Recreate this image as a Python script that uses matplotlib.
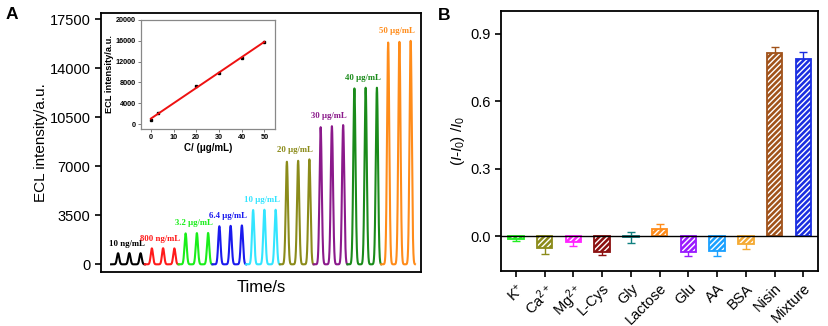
import numpy as np
import matplotlib
matplotlib.use("Agg")
import matplotlib.pyplot as plt

plt.rcParams['font.family'] = ['Liberation Sans', 'DejaVu Sans']
plt.rcParams['mathtext.fontset'] = 'custom'
plt.rcParams['mathtext.rm'] = 'Liberation Sans'
plt.rcParams['mathtext.it'] = 'Liberation Sans:italic'
plt.rcParams['hatch.linewidth'] = 1.0

# ---------------- Panel A data ----------------
group_labels = ["10 ng/mL", "800 ng/mL", "3.2 μg/mL", "6.4 μg/mL", "10 μg/mL",
                "20 μg/mL", "30 μg/mL", "40 μg/mL", "50 μg/mL"]
group_colors = ["#000000", "#ff1a1a", "#1aee1a", "#1a1aee", "#33e5ff",
                "#8b8b1a", "#8b1a8b", "#1a8b1a", "#ff8c1a"]
peak_heights = [
    [790, 800, 790],
    [1140, 1150, 1140],
    [2210, 2230, 2240],
    [2720, 2750, 2780],
    [3880, 3900, 3900],
    [7330, 7400, 7500],
    [9800, 9870, 9950],
    [12570, 12620, 12620],
    [15850, 15900, 15970],
]
inset_conc = [0, 3.2, 20, 30, 40, 50]
inset_points = [770, 2170, 7300, 9740, 12750, 15830]

# ---------------- Panel B data ----------------
interferents = ["K$^{+}$", "Ca$^{2+}$", "Mg$^{2+}$", "L-Cys", "Gly", "Lactose",
                "Glu", "AA", "BSA", "Nisin", "Mixture"]
response = [-0.011, -0.053, -0.024, -0.071, -0.005, 0.031, -0.070, -0.064,
            -0.033, 0.814, 0.785]
response_err = [0.010, 0.027, 0.018, 0.012, 0.024, 0.025, 0.018, 0.024,
                0.022, 0.025, 0.032]
bar_colors = ["#22ee22", "#8b8b1a", "#ff22ff", "#8b1010", "#108080", "#ff8c1a",
              "#9a1aff", "#1aa0ff", "#f5aa33", "#a0521a", "#1a2ee0"]

fig = plt.figure(figsize=(8.29, 3.26), dpi=100)

# ---------------- Panel A ----------------
axA = fig.add_axes([0.1218, 0.1656, 0.3862, 0.7954])
group_w = 30.0
peak_offsets = [6.2, 16.2, 26.2]
sigma = 1.0
for g, (heights, col) in enumerate(zip(peak_heights, group_colors)):
    t = np.linspace(g * group_w, (g + 1) * group_w, 1200)
    y = np.zeros_like(t)
    for off, h in zip(peak_offsets, heights):
        y += h * np.exp(-0.5 * ((t - (g * group_w + off)) / sigma) ** 2)
    axA.plot(t, y, color=col, lw=1.5, solid_joinstyle='round')
    axA.annotate(group_labels[g], xy=(g * group_w + 15, max(heights)),
                 xytext=(-1, 4), textcoords='offset points', ha='center',
                 va='bottom', fontsize=6.3, fontweight='bold', color=col,
                 family='Liberation Serif')
axA.set_xlim(-9, 275.5)
axA.set_ylim(-550, 17980)
axA.set_yticks([0, 3500, 7000, 10500, 14000, 17500])
axA.set_xticks([])
axA.tick_params(axis='y', direction='out', length=4, width=1.2, labelsize=10.5)
for s in axA.spines.values():
    s.set_linewidth(1.3)
axA.set_ylabel("ECL intensity/a.u.", fontsize=11, labelpad=1)
axA.set_xlabel("Time/s", fontsize=12, labelpad=6)
fig.text(0.007, 0.957, "A", fontsize=12.5, fontweight='bold', va='center')

# Inset
axI = fig.add_axes([0.1697, 0.605, 0.162, 0.3337])
axI.plot(inset_conc, inset_points, 's', color='black', ms=1.8)
coef = np.polyfit(inset_conc, inset_points, 1)
xf = np.array([0, 50])
axI.plot(xf, np.polyval(coef, xf), color='#ee1111', lw=1.4)
axI.set_xlim(-4.5, 54.7)
axI.set_ylim(-900, 20000)
axI.set_xticks([0, 10, 20, 30, 40, 50])
axI.set_yticks([0, 4000, 8000, 12000, 16000, 20000])
axI.tick_params(direction='out', length=2, width=0.6, labelsize=5.2, pad=1.5,
                color='#666666')
for lab in axI.get_xticklabels() + axI.get_yticklabels():
    lab.set_fontweight('bold')
for s in axI.spines.values():
    s.set_linewidth(0.9)
    s.set_color('#888888')
axI.set_ylabel("ECL intensity/a.u.", fontsize=6.7, fontweight='bold', labelpad=1)
axI.set_xlabel("C/ (μg/mL)", fontsize=7, fontweight='bold', labelpad=2)

# ---------------- Panel B ----------------
axB = fig.add_axes([0.6043, 0.1696, 0.3828, 0.7964])
xpos = np.arange(len(interferents))
bw = 0.54
for i, (v, e, c) in enumerate(zip(response, response_err, bar_colors)):
    axB.errorbar(xpos[i], v, yerr=e, color=c, capsize=2.6, elinewidth=1.0,
                 capthick=1.0, zorder=1)
    axB.bar(xpos[i], v, width=bw, color=c, edgecolor='white', hatch='//////',
            linewidth=0, zorder=2)
    axB.bar(xpos[i], v, width=bw, fill=False, edgecolor=c, linewidth=1.3,
            zorder=3)
axB.axhline(0, color='black', lw=1.0, zorder=4)
axB.set_xlim(-0.52, 10.52)
axB.set_ylim(-0.153, 1.0)
axB.set_yticks([0.0, 0.3, 0.6, 0.9])
axB.set_yticklabels(["0.0", "0.3", "0.6", "0.9"])
axB.set_xticks(xpos)
axB.set_xticklabels(interferents, rotation=45, ha='right', rotation_mode='anchor')
axB.tick_params(direction='out', length=4, width=1.2, labelsize=10.5)
for s in axB.spines.values():
    s.set_linewidth(1.3)
axB.set_ylabel("($I$-$I_0$) /$I_0$", fontsize=11, labelpad=2)
fig.text(0.528, 0.952, "B", fontsize=12.5, fontweight='bold', va='center')

fig.savefig("out.png", dpi=100)
